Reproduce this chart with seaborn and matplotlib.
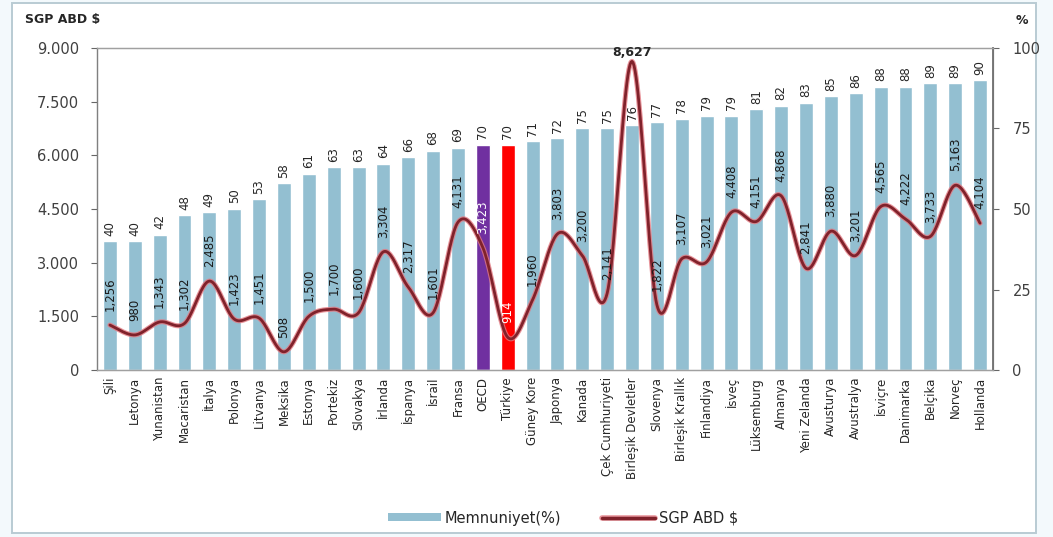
import numpy as np
import pandas as pd
import matplotlib
matplotlib.use("Agg")
import matplotlib.pyplot as plt
import seaborn as sns
from matplotlib.patches import Rectangle, Patch
from matplotlib.lines import Line2D
import matplotlib.patheffects as pe

# --- data -------------------------------------------------------------
countries = [
    "Şili", "Letonya", "Yunanistan", "Macaristan", "İtalya", "Polonya",
    "Litvanya", "Meksika", "Estonya", "Portekiz", "Slovakya", "İrlanda",
    "İspanya", "İsrail", "Fransa", "OECD", "Türkiye", "Güney Kore",
    "Japonya", "Kanada", "Çek Cumhuriyeti", "Birleşik Devletler", "Slovenya",
    "Birleşik Krallık", "Finlandiya", "İsveç", "Lüksemburg", "Almanya",
    "Yeni Zelanda", "Avusturya", "Avustralya", "İsviçre", "Danimarka",
    "Belçika", "Norveç", "Hollanda",
]
memnuniyet = [
    40, 40, 42, 48, 49, 50, 53, 58, 61, 63, 63, 64, 66, 68, 69, 70, 70, 71,
    72, 75, 75, 76, 77, 78, 79, 79, 81, 82, 83, 85, 86, 88, 88, 89, 89, 90,
]
sgp_usd = [
    1256, 980, 1343, 1302, 2485, 1423, 1451, 508, 1500, 1700, 1600, 3304,
    2317, 1601, 4131, 3423, 914, 1960, 3803, 3200, 2141, 8627, 1822, 3107,
    3021, 4408, 4151, 4868, 2841, 3880, 3201, 4565, 4222, 3733, 5163, 4104,
]
pct_ticks = [0, 25, 50, 75, 100]
usd_ticks = [0, 1500, 3000, 4500, 6000, 7500, 9000]

# --- styling ----------------------------------------------------------
BAR = "#93bfd1"
OECD_C = "#7030a0"
TR_C = "#ff0000"
LINE = "#80222b"
HALO = "#e27880"
TXT = "#262626"

sns.set_style("white")
plt.rcParams["font.family"] = ["DejaVu Sans"]

fig = plt.figure(figsize=(10.53, 5.37), dpi=100, facecolor="#f3f9fc")
W, H = 1053, 537

# chart frame drawn on a background axes so it sits behind the plot
bg = fig.add_axes([0, 0, 1, 1], zorder=-5)
bg.set_axis_off()
bg.set_xlim(0, W)
bg.set_ylim(H, 0)
bg.add_patch(Rectangle((12, 3), 1036 - 12, 533 - 3, facecolor="white",
                       edgecolor="#b9cbd3", linewidth=1.4))

ax = fig.add_axes([97 / W, 1 - 370 / H, (993 - 97) / W, (370 - 48) / H])
ax.set_facecolor("none")

df = pd.DataFrame({"ulke": countries, "memnuniyet": memnuniyet, "sgp": sgp_usd})
palette = {c: BAR for c in countries}
palette["OECD"] = OECD_C
palette["Türkiye"] = TR_C

# bars: satisfaction (%) on the right-hand scale
sns.barplot(data=df, x="ulke", y="memnuniyet", hue="ulke", palette=palette,
            dodge=False, legend=False, width=0.56, saturation=1, ax=ax)
ax.set_ylim(0, 100)
ax.set_xlim(-0.52, len(countries) - 0.48)
ax.set_xlabel("")
ax.set_ylabel("")
ax.set_xticks(range(len(countries)))
ax.set_xticklabels(countries, rotation=90, fontsize=8.5, color=TXT)
ax.tick_params(axis="x", length=2, width=0.6, color="#888888", pad=3)

for i, v in enumerate(memnuniyet):
    ax.annotate(str(v), (i, v), xytext=(0, 4), textcoords="offset points",
                rotation=90, ha="center", va="bottom", fontsize=8.5, color=TXT)

# line: GDP per capita (USD) on the left-hand scale
ax2 = ax.twinx()

# swap sides: percent scale on the right, USD scale on the left
ax.yaxis.tick_right()
ax.set_yticks(pct_ticks)
ax.set_yticklabels([str(t) for t in pct_ticks], fontsize=10.5, color="#404040")
ax.tick_params(axis="y", length=4, width=0.8, color="#666666", pad=10)

ax2.yaxis.tick_left()
ax2.set_ylim(0, 9000)
ax2.set_yticks(usd_ticks)
ax2.set_yticklabels([f"{t:,}".replace(",", ".") for t in usd_ticks],
                    fontsize=10.5, color="#404040")
ax2.tick_params(axis="y", length=4, width=0.8, color="#666666", pad=9)

x = np.arange(len(sgp_usd), dtype=float)
y = np.asarray(sgp_usd, dtype=float)


def smooth_path(xs, ys, n=24):
    """Bezier smoothing through every point (spreadsheet-style smoothed line)."""
    px = np.concatenate([[xs[0]], xs, [xs[-1]]])
    py = np.concatenate([[ys[0]], ys, [ys[-1]]])
    out_x, out_y = [], []
    t = np.linspace(0, 1, n, endpoint=False)
    for k in range(1, len(px) - 2):
        p0 = np.array([px[k], py[k]])
        p3 = np.array([px[k + 1], py[k + 1]])
        c1 = p0 + (np.array([px[k + 1], py[k + 1]]) - np.array([px[k - 1], py[k - 1]])) / 6
        c2 = p3 - (np.array([px[k + 2], py[k + 2]]) - np.array([px[k], py[k]])) / 6
        b = ((1 - t) ** 3)[:, None] * p0 + (3 * (1 - t) ** 2 * t)[:, None] * c1 \
            + (3 * (1 - t) * t ** 2)[:, None] * c2 + (t ** 3)[:, None] * p3
        out_x.extend(b[:, 0])
        out_y.extend(b[:, 1])
    out_x.append(xs[-1])
    out_y.append(ys[-1])
    return np.array(out_x), np.array(out_y)


sx, sy = smooth_path(x, y)
curve = pd.DataFrame({"x": sx, "y": sy})
sns.lineplot(data=curve, x="x", y="y", ax=ax2, color=LINE, linewidth=2.0,
             sort=False, estimator=None,
             path_effects=[pe.Stroke(linewidth=3.6, foreground=HALO, alpha=0.8),
                           pe.Normal()])
ax2.set_xlabel("")
ax2.set_ylabel("")

peak = int(np.argmax(y))
for i, v in enumerate(sgp_usd):
    lbl = f"{v:,}"
    if i == peak:
        ax2.annotate(lbl, (i, v), xytext=(0, 2), textcoords="offset points",
                     ha="center", va="bottom", fontsize=9, fontweight="bold",
                     color=TXT)
        continue
    col = "white" if countries[i] in ("OECD", "Türkiye") else "#1a1a1a"
    ax2.annotate(lbl, (i, v), xytext=(0, 10), textcoords="offset points",
                 rotation=90, ha="center", va="bottom", fontsize=8.5, color=col)

for a in (ax, ax2):
    for s in a.spines.values():
        s.set_color("#a0a0a0")
        s.set_linewidth(0.9)
ax2.spines["right"].set_color("#707070")
ax2.spines["right"].set_linewidth(1.3)
ax2.spines["left"].set_color("#808080")

# axis titles
fig.text(25 / W, 1 - 20 / H, "SGP ABD $", fontsize=9, fontweight="bold",
         color=TXT, ha="left", va="center")
fig.text(1022 / W, 1 - 20 / H, "%", fontsize=9, fontweight="bold",
         color=TXT, ha="center", va="center")

handles = [Patch(facecolor=BAR, edgecolor="none"),
           Line2D([], [], color=LINE, linewidth=2.5,
                  path_effects=[pe.Stroke(linewidth=4, foreground=HALO, alpha=0.8),
                                pe.Normal()])]
fig.legend(handles, ["Memnuniyet(%)", "SGP ABD $"], loc="center",
           bbox_to_anchor=(0.535, 1 - 518 / H), ncol=2, frameon=False,
           fontsize=10.5, handlelength=3.6, handleheight=0.45, columnspacing=2.8,
           handletextpad=0.3)

fig.savefig("out.png", dpi=100, facecolor=fig.get_facecolor())
